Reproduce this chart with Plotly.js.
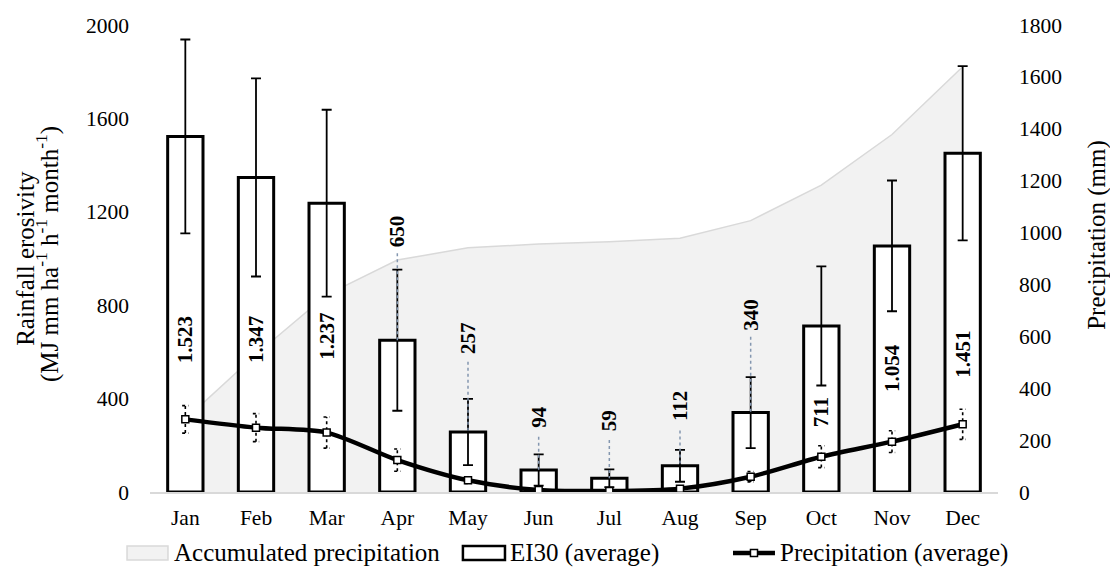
<!DOCTYPE html>
<html>
<head>
<meta charset="utf-8">
<script src="https://cdn.plot.ly/plotly-3.0.1.min.js"></script>
<style>
  html, body { margin: 0; padding: 0; background: #fff; }
  #chart { width: 1110px; height: 572px; }
</style>
</head>
<body>
<div id="chart"></div>
<script>
// ---- data ----
const months = ['Jan','Feb','Mar','Apr','May','Jun','Jul','Aug','Sep','Oct','Nov','Dec'];
const ei30 = [1523, 1347, 1237, 650, 257, 94, 59, 112, 340, 711, 1054, 1451];
const ei30Sd = [415, 424, 400, 302, 142, 67, 38, 68, 152, 255, 280, 373];
const precip = [280, 248, 229, 123, 45, 8, 4, 13, 59, 136, 194, 261];
const precipSd = [53, 54, 60, 43, 12, 5, 4, 8, 20, 42, 42, 58];
const accumPrecip = [280, 530, 760, 894, 941, 956, 965, 978, 1046, 1183, 1378, 1639];

// ---- label placement (layout only, left-axis units) ----
const labelY = [651, 651, 668, 1118, 660, 321, 304, 368, 758, 343, 531, 591];
const leaderTop = [null, null, null, 1023, 558, 237, 223, 263, 665, null, null, null];

const FONT = 'Liberation Serif, Times New Roman, serif';
const idx = months.map((m, i) => i);

function fmt(v) {
  if (v >= 1000) return Math.floor(v / 1000) + '.' + String(v % 1000).padStart(3, '0');
  return String(v);
}

// area: accumulated precipitation (main y axis, right side)
const areaTrace = {
  type: 'scatter', mode: 'lines', x: idx, y: accumPrecip,
  fill: 'tozeroy', fillcolor: '#f2f2f2',
  line: { color: '#d9d9d9', width: 1.5 },
  xaxis: 'x', yaxis: 'y', hoverinfo: 'skip', showlegend: false
};

// bars: EI30 (left axis)
const barTrace = {
  type: 'bar', x: idx, y: ei30, width: 0.5,
  marker: { color: '#ffffff', line: { color: '#000000', width: 3 } },
  error_y: { type: 'data', array: ei30Sd, visible: true, color: '#000000', thickness: 1.8, width: 5 },
  xaxis: 'x', yaxis: 'y2', showlegend: false
};

// leader lines from labels to bar tops
const lx = [], ly = [];
idx.forEach(i => {
  if (leaderTop[i] !== null) { lx.push(i, i, null); ly.push(leaderTop[i], ei30[i], null); }
});
const leaderTrace = {
  type: 'scatter', mode: 'lines', x: lx, y: ly,
  line: { color: '#8497b0', width: 1.5, dash: 'dot' },
  xaxis: 'x', yaxis: 'y2', hoverinfo: 'skip', showlegend: false
};

// dotted error bars for precipitation
const ex = [], ey = [];
const cap = 0.045;
idx.forEach(i => {
  const lo = precip[i] - precipSd[i], hi = precip[i] + precipSd[i];
  ex.push(i, i, null, i - cap, i + cap, null, i - cap, i + cap, null);
  ey.push(lo, hi, null, hi, hi, null, lo, lo, null);
});
const precipErrTrace = {
  type: 'scatter', mode: 'lines', x: ex, y: ey,
  line: { color: '#000000', width: 1.6, dash: 'dot' },
  xaxis: 'x', yaxis: 'y3', hoverinfo: 'skip', showlegend: false
};

const precipTrace = {
  type: 'scatter', mode: 'lines+markers', x: idx, y: precip,
  line: { color: '#000000', width: 4.5, shape: 'spline', smoothing: 0.8 },
  marker: { symbol: 'square', size: 7, color: '#ffffff', line: { color: '#000000', width: 1.5 } },
  xaxis: 'x', yaxis: 'y3', showlegend: false
};

// data labels
const annotations = idx.map(i => ({
  x: i, y: labelY[i], xref: 'x', yref: 'y2',
  text: '<b>' + fmt(ei30[i]) + '</b>', textangle: -90, showarrow: false,
  font: { family: FONT, size: 21, color: '#000000' },
  xanchor: 'center', yanchor: 'middle'
}));

// axis titles
annotations.push({
  x: -0.147, y: 0.5, xref: 'paper', yref: 'paper', textangle: -90, showarrow: false,
  text: 'Rainfall erosivity', font: { family: FONT, size: 25, color: '#000' },
  xanchor: 'center', yanchor: 'middle'
});
annotations.push({
  x: -0.12, y: 0.51, xref: 'paper', yref: 'paper', textangle: -90, showarrow: false,
  text: '(MJ mm ha<sup>-1</sup> h<sup>-1</sup> month<sup>-1</sup>)', font: { family: FONT, size: 25, color: '#000' },
  xanchor: 'center', yanchor: 'middle'
});
annotations.push({
  x: 1.1175, y: 0.55, xref: 'paper', yref: 'paper', textangle: -90, showarrow: false,
  text: 'Precipitation (mm)', font: { family: FONT, size: 25, color: '#000' },
  xanchor: 'center', yanchor: 'middle'
});

// custom legend (paper coords: x 0..1 = 150..998 px, y 0..1 = 492..25 px)
const legY = -0.1306;
const legendItems = [
  { text: 'Accumulated precipitation', x: 0.0259 },
  { text: 'EI30 (average)', x: 0.4222 },
  { text: 'Precipitation (average)', x: 0.7406 }
];
legendItems.forEach(it => annotations.push({
  x: it.x, y: legY, xref: 'paper', yref: 'paper', showarrow: false,
  text: it.text, font: { family: FONT, size: 25, color: '#000' },
  xanchor: 'left', yanchor: 'middle'
}));

const shapes = [
  { type: 'rect', xref: 'paper', yref: 'paper', x0: -0.0271, x1: 0.0212, y0: -0.1456, y1: -0.1156,
    fillcolor: '#f2f2f2', line: { color: '#d9d9d9', width: 1.5 } },
  { type: 'rect', xref: 'paper', yref: 'paper', x0: 0.369, x1: 0.4186, y0: -0.1456, y1: -0.1156,
    fillcolor: '#ffffff', line: { color: '#000000', width: 2.5 } },
  { type: 'line', xref: 'paper', yref: 'paper', x0: 0.6875, x1: 0.737, y0: legY, y1: legY,
    line: { color: '#000000', width: 4.5 } },
  { type: 'rect', xref: 'paper', yref: 'paper', x0: 0.7081, x1: 0.7164, y0: -0.1381, y1: -0.1231,
    fillcolor: '#ffffff', line: { color: '#000000', width: 1.5 } }
];

const tickFont = { family: FONT, size: 21.5, color: '#000000' };

const layout = {
  width: 1110, height: 572,
  margin: { l: 150, r: 112, t: 25, b: 80, pad: 0 },
  paper_bgcolor: '#ffffff', plot_bgcolor: '#ffffff',
  showlegend: false,
  font: { family: FONT, color: '#000' },
  xaxis: {
    range: [-0.5, 11.5], tickmode: 'array', tickvals: idx, ticktext: months,
    showline: true, linecolor: '#d9d9d9', linewidth: 1.5, showgrid: false, zeroline: false,
    ticks: '', tickfont: tickFont, ticklabelstandoff: 6, fixedrange: true
  },
  yaxis: {
    range: [0, 1800], dtick: 200, side: 'right', showgrid: false, zeroline: false, showline: false,
    ticks: '', tickfont: tickFont, ticklabelstandoff: 20
  },
  yaxis2: {
    range: [0, 2000], dtick: 400, side: 'left', overlaying: 'y', showgrid: false, zeroline: false,
    showline: false, ticks: '', tickfont: tickFont, ticklabelstandoff: 20
  },
  yaxis3: {
    range: [0, 1800], overlaying: 'y', visible: false, showgrid: false, zeroline: false
  },
  annotations: annotations,
  shapes: shapes
};

Plotly.newPlot('chart', [areaTrace, barTrace, leaderTrace, precipErrTrace, precipTrace], layout,
  { displayModeBar: false, staticPlot: true });
</script>
</body>
</html>
